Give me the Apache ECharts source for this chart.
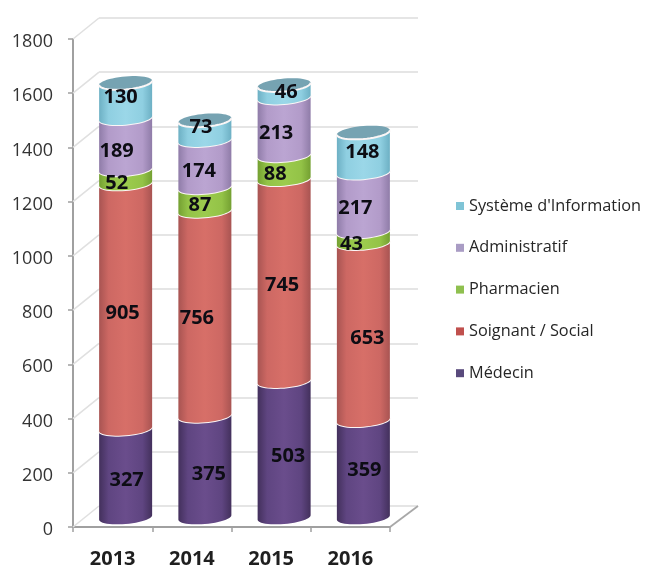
<!DOCTYPE html>
<html><head><meta charset="utf-8">
<style>html,body{margin:0;padding:0;background:#fff}#c{width:645px;height:565px}</style>
<script src="https://cdn.jsdelivr.net/npm/echarts@6/dist/echarts.min.js"></script></head>
<body><div id="c"></div>
<script>
var years = ['2013','2014','2015','2016'];
var medecin = [327,375,503,359];
var soignant = [905,756,745,653];
var pharmacien = [52,87,88,43];
var administratif = [189,174,213,217];
var systeme = [130,73,46,148];
var yTicks = [0,200,400,600,800,1000,1200,1400,1600,1800];
var names = ['Médecin','Soignant / Social','Pharmacien','Administratif',"Système d'Information"];
var values = [medecin,soignant,pharmacien,administratif,systeme];

var legendColors = ['#594a7c','#c0504d','#8fc04f','#a99cc4','#7fc4d6'];
var bodyStops = [
 ['#43305c','#5f4581','#6a4d8c','#5f4581','#43305c'],
 ['#a85452','#cd6863','#d76f68','#cd6863','#a85452'],
 ['#74a032','#93c347','#9ccb4e','#93c347','#74a032'],
 ['#8f7ca8','#b29bc9','#bba5d2','#b29bc9','#8f7ca8'],
 ['#6db0c4','#8fcfe1','#9bd7e8','#8fcfe1','#6db0c4']
];
var topFill = '#76a3b2';
// label shift (px) from the middle of each segment, one row per series
var labelDx = [[1,4,4,1],[-3,-8,-2,4],[-9,-5,-9,-12],[-9,-6,-8,-8],[-5,-4,2,-1]];
var labelDy = [[7,8,7,1],[7,5,5,7],[7,6,7,7],[8,8,7,6],[-3,-3,1,0]];

var G = {left:73, top:39, w:317, h:488, depthX:26, depthY:21, offX:13, offY:9.5, cylW:53, ryy:6.5, shear:2.2};
var FONT = '"Open Sans","Noto Sans",sans-serif';

function arc(cx, cy, reverse){
  var pts=[], n=24, a=G.cylW/2;
  for(var i=0;i<=n;i++){
    var t=Math.PI - Math.PI*i/n;
    var dx=a*Math.cos(t);
    pts.push([cx+dx, cy+G.ryy*Math.sin(t)-G.shear*dx/a]);
  }
  return reverse?pts.reverse():pts;
}
function ellipse(cx,cy){
  var pts=[], n=48, a=G.cylW/2;
  for(var i=0;i<n;i++){
    var t=2*Math.PI*i/n, dx=a*Math.cos(t);
    pts.push([cx+dx, cy+G.ryy*Math.sin(t)-G.shear*dx/a]);
  }
  return pts;
}

function segmentRender(si){
  return function(params, api){
    var cat=api.value(0), from=api.value(1), to=api.value(2);
    var p0=api.coord([cat,from]), p1=api.coord([cat,to]);
    var cx=p0[0]+G.offX, y0=p0[1]-G.offY, y1=p1[1]-G.offY;
    var s=bodyStops[si];
    var kids=[{
      type:'polygon', shape:{points:arc(cx,y1,false).concat(arc(cx,y0,true))},
      style:{fill:new echarts.graphic.LinearGradient(0,0,1,0,[{offset:0,color:s[0]},{offset:0.18,color:s[1]},{offset:0.5,color:s[2]},{offset:0.82,color:s[3]},{offset:1,color:s[4]}])}
    }];
    if(si===values.length-1){
      kids.push({type:'polygon',shape:{points:ellipse(cx,y1)},style:{fill:topFill}});
    }
    kids.push({type:'polyline',shape:{points:arc(cx,y1,false)},style:{fill:null,stroke:'#fbf6f6',lineWidth:2}});
    kids.push({type:'text',z2:100,style:{
      text:String(to-from),
      x:cx+labelDx[si][params.dataIndex],
      y:(y0+y1)/2+labelDy[si][params.dataIndex],
      align:'center',verticalAlign:'middle',
      fill:'#0d0d14',font:'bold 20px '+FONT
    }});
    return {type:'group',children:kids};
  };
}

var series=[];
// side wall and floor edges
series.push({
  type:'custom',name:'walls',silent:true,clip:false,z:1,
  data:yTicks.map(function(v){return [0,v];}),
  encode:{x:0,y:1},
  renderItem:function(params,api){
    var p=api.coord([0,api.value(1)]);
    var half=api.size([1,0])[0]/2, x=p[0]-half;
    return {type:'line',shape:{x1:x,y1:p[1],x2:x+G.depthX,y2:p[1]-G.depthY},style:{stroke:'#e0e0e0',lineWidth:1.6}};
  }
});
series.push({
  type:'custom',name:'floor',silent:true,clip:false,z:1,
  data:[[years.length-1,0]],encode:{x:0,y:1},
  renderItem:function(params,api){
    var p=api.coord([api.value(0),0]);
    var half=api.size([1,0])[0]/2, x=p[0]+half;
    return {type:'line',shape:{x1:x,y1:p[1],x2:x+G.depthX+2,y2:p[1]-G.depthY},style:{stroke:'#a8a8a8',lineWidth:1.8}};
  }
});
var base=years.map(function(){return 0;});
values.forEach(function(arr,si){
  var data=arr.map(function(v,i){var d=[i,base[i],base[i]+v];base[i]+=v;return d;});
  series.push({
    type:'custom',name:names[si],clip:false,z:3,
    itemStyle:{color:legendColors[si]},
    data:data,encode:{x:0,y:[1,2]},
    renderItem:segmentRender(si)
  });
});

var chart=echarts.init(document.getElementById('c'),null,{renderer:'canvas'});
chart.setOption({
  animation:false,backgroundColor:'#fff',
  grid:[
    {left:G.left,top:G.top,width:G.w,height:G.h,containLabel:false,outerBoundsMode:'none'},
    {left:G.left+G.depthX,top:G.top-G.depthY,width:G.w+2,height:G.h,containLabel:false,outerBoundsMode:'none'}
  ],
  legend:{
    data:names.slice().reverse(),orient:'vertical',left:451,top:193,
    itemWidth:8,itemHeight:8,itemGap:25.8,icon:'rect',
    textStyle:{fontFamily:FONT,fontSize:16.3,color:'#262626'}
  },
  xAxis:[
    {type:'category',gridIndex:0,data:years,
     axisLine:{lineStyle:{color:'#a0a0a0',width:2}},
     axisTick:{show:true,length:5,alignWithLabel:false,lineStyle:{color:'#a0a0a0',width:1.5}},
     axisLabel:{color:'#1f1f1f',fontFamily:FONT,fontWeight:'bold',fontSize:20,margin:22},
     splitLine:{show:false}},
    {type:'category',gridIndex:1,data:years,show:false}
  ],
  yAxis:[
    {type:'value',gridIndex:0,min:0,max:1800,interval:200,
     axisLine:{show:true,lineStyle:{color:'#a0a0a0',width:2}},
     axisTick:{show:true,length:5,lineStyle:{color:'#a0a0a0',width:1.5}},
     axisLabel:{margin:20,formatter:function(v){return '{a|'+v+'}';},
       rich:{a:{color:'#333',fontFamily:FONT,fontSize:18,padding:[6,0,0,0]}}},
     splitLine:{show:false}},
    {type:'value',gridIndex:1,min:0,max:1800,interval:200,
     axisLine:{show:false},axisTick:{show:false},axisLabel:{show:false},
     splitLine:{show:true,lineStyle:{color:'#dcdcdc',width:1.6}}}
  ],
  series:series
});
</script></body></html>
